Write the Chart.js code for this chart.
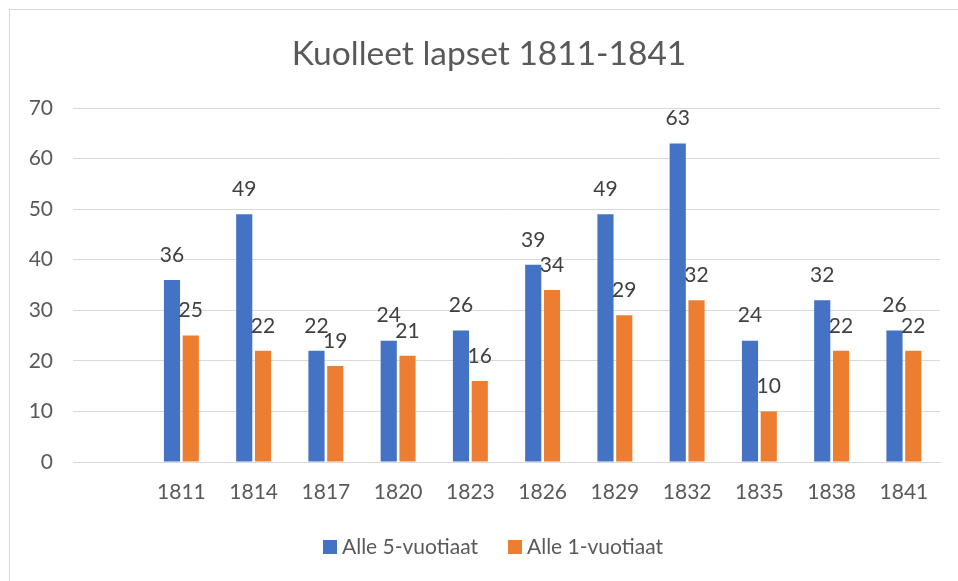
<!DOCTYPE html>
<html>
<head>
<meta charset="utf-8">
<script src="https://cdn.jsdelivr.net/npm/chart.js@4.4.1/dist/chart.umd.min.js"></script>
<style>
  html, body { margin: 0; padding: 0; background: #fff; }
  #wrap { position: relative; width: 958px; height: 581px; overflow: hidden; }
  #frame { position: absolute; left: 9px; top: 9px; width: 1000px; height: 700px; border: 1px solid #D9D9D9; box-sizing: border-box; }
  canvas { position: absolute; left: 0; top: 0; }
</style>
</head>
<body>
<div id="wrap">
  <div id="frame"></div>
  <canvas id="c" width="958" height="581"></canvas>
</div>
<script>
const categories = ['', '1811', '1814', '1817', '1820', '1823', '1826', '1829', '1832', '1835', '1838', '1841'];
const under5 = [null, 36, 49, 22, 24, 26, 39, 49, 63, 24, 32, 26];
const under1 = [null, 25, 22, 19, 21, 16, 34, 29, 32, 10, 22, 22];
const yTicks = [0, 10, 20, 30, 40, 50, 60, 70];
const seriesNames = ['Alle 5-vuotiaat', 'Alle 1-vuotiaat'];
const seriesColors = ['#4472C4', '#ED7D31'];
const titleText = 'Kuolleet lapset 1811-1841';

const FONT = 'Lato, "Open Sans", sans-serif';

// Value labels above each bar
const labelPlugin = {
  id: 'barLabels',
  afterDatasetsDraw(chart) {
    const ctx = chart.ctx;
    ctx.save();
    ctx.font = '21px ' + FONT;
    ctx.fillStyle = '#404040';
    ctx.textAlign = 'center';
    ctx.textBaseline = 'middle';
    chart.data.datasets.forEach((ds, i) => {
      const meta = chart.getDatasetMeta(i);
      meta.data.forEach((bar, j) => {
        const v = ds.data[j];
        if (v === null || v === undefined) return;
        ctx.fillText(String(v), bar.x, bar.y - 25);
      });
    });
    ctx.restore();
  }
};

// Title and legend, centred on the outer chart frame (as in the original)
const frameCenterX = 490;
const titleLegendPlugin = {
  id: 'titleLegend',
  afterDraw(chart) {
    const ctx = chart.ctx;
    ctx.save();
    ctx.font = '33.5px ' + FONT;
    ctx.fillStyle = '#595959';
    ctx.textAlign = 'center';
    ctx.textBaseline = 'alphabetic';
    ctx.fillText(titleText, frameCenterX - 1, 65);

    ctx.font = '21px ' + FONT;
    const box = 14, gap = 5, spacing = 30;
    const items = chart.data.datasets.map(ds => ({
      text: ds.label, color: ds.backgroundColor,
      w: box + gap + ctx.measureText(ds.label).width
    }));
    const total = items.reduce((s, it) => s + it.w, 0) + spacing * (items.length - 1);
    let x = frameCenterX + 3 - total / 2;
    const cy = 547;
    ctx.textAlign = 'left';
    ctx.textBaseline = 'middle';
    items.forEach(it => {
      ctx.fillStyle = it.color;
      ctx.fillRect(x, cy - box / 2, box, box);
      ctx.fillStyle = '#595959';
      ctx.fillText(it.text, x + box + gap, cy);
      x += it.w + spacing;
    });
    ctx.restore();
  }
};

new Chart(document.getElementById('c'), {
  type: 'bar',
  data: {
    labels: categories,
    datasets: [
      { label: seriesNames[0], data: under5, backgroundColor: seriesColors[0], borderWidth: 0,
        categoryPercentage: 0.52, barPercentage: 0.86 },
      { label: seriesNames[1], data: under1, backgroundColor: seriesColors[1], borderWidth: 0,
        categoryPercentage: 0.52, barPercentage: 0.86 }
    ]
  },
  options: {
    responsive: false,
    animation: false,
    events: [],
    layout: { padding: { top: 108, left: 0, right: 18, bottom: 76 } },
    plugins: {
      title: { display: false },
      legend: { display: false },
      tooltip: { enabled: false }
    },
    scales: {
      x: {
        afterFit(scale) { scale.height = 43; },
        grid: { display: false, drawTicks: false },
        border: { display: true, color: '#D9D9D9', width: 1 },
        ticks: { color: '#595959', font: { family: FONT, size: 21 }, padding: 18, maxRotation: 0, autoSkip: false }
      },
      y: {
        min: 0, max: 70,
        afterBuildTicks(scale) { scale.ticks = yTicks.map(v => ({ value: v })); },
        afterFit(scale) { scale.width = 73; },
        grid: { color: '#D9D9D9', lineWidth: 1, drawTicks: false },
        border: { display: false },
        ticks: { color: '#595959', font: { family: FONT, size: 21 }, padding: 20 }
      }
    }
  },
  plugins: [labelPlugin, titleLegendPlugin]
});
</script>
</body>
</html>
